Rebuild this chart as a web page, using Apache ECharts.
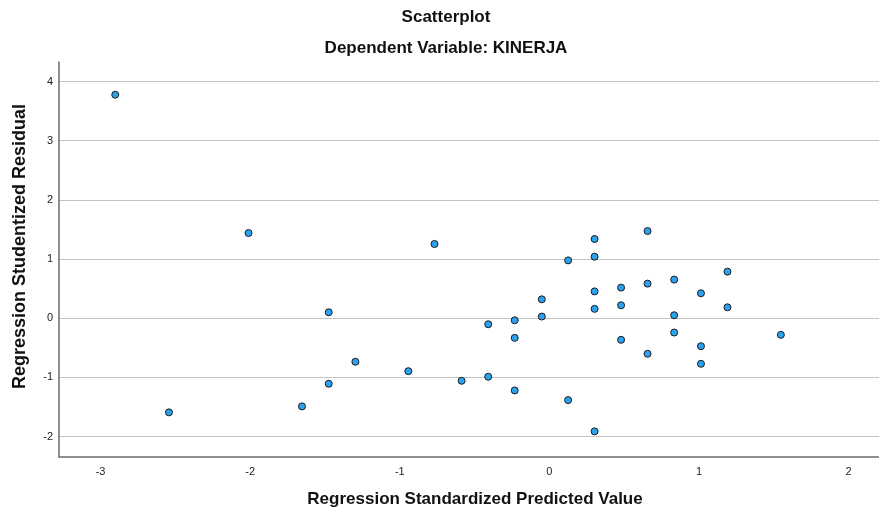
<!DOCTYPE html>
<html>
<head>
<meta charset="utf-8">
<script src="https://cdn.jsdelivr.net/npm/echarts@6/dist/echarts.min.js"></script>
<style>
html,body{margin:0;padding:0;background:#fff;}
#chart{width:879px;height:513px;}
</style>
</head>
<body>
<div id="chart"></div>
<script>
var chartTitle = 'Scatterplot';
var chartSubtitle = 'Dependent Variable: KINERJA';
var xAxisName = 'Regression Standardized Predicted Value';
var yAxisName = 'Regression Studentized Residual';
var xTicks = [-3, -2, -1, 0, 1, 2];
var yTicks = [-2, -1, 0, 1, 2, 3, 4];

var predicted = [
  -2.902, -2.543, -2.011, -0.768, -1.475, -1.297, -1.475, -1.654, -0.943, -0.587,
  -0.409, -0.409, -0.232, -0.232, -0.232, -0.051, -0.051, 0.125, 0.125, 0.302,
  0.302, 0.302, 0.302, 0.302, 0.479, 0.479, 0.479, 0.656, 0.656, 0.656,
  0.834, 0.834, 0.834, 1.013, 1.013, 1.013, 1.190, 1.190, 1.547
];
var residual = [
  3.777, -1.590, 1.440, 1.255, 0.101, -0.735, -1.106, -1.489, -0.894, -1.056,
  -0.101, -0.988, -0.034, -0.331, -1.219, 0.320, 0.029, 0.978, -1.383, 1.339,
  1.040, 0.454, 0.159, -1.911, 0.518, 0.219, -0.364, 1.474, 0.585, -0.600,
  0.653, 0.051, -0.241, 0.422, -0.472, -0.769, 0.788, 0.185, -0.280
];

var points = predicted.map(function (x, i) { return [x, residual[i]]; });
var FONT = 'Liberation Sans, Arial, sans-serif';

var chart = echarts.init(document.getElementById('chart'), null, {renderer: 'canvas'});
chart.setOption({
  animation: false,
  backgroundColor: '#ffffff',
  title: [
    {text: chartTitle, left: 441, textAlign: 'center', top: 4,
     textStyle: {fontFamily: FONT, fontSize: 17, fontWeight: 'bold', color: '#111'}},
    {text: chartSubtitle, left: 441, textAlign: 'center', top: 35,
     textStyle: {fontFamily: FONT, fontSize: 17, fontWeight: 'bold', color: '#111'}}
  ],
  grid: {left: 59, right: 0, top: 62, bottom: 55, containLabel: false},
  xAxis: {
    type: 'value', min: -3.278, max: 2.203,
    name: xAxisName, nameLocation: 'middle', nameGap: 34,
    nameTextStyle: {fontFamily: FONT, fontSize: 17, fontWeight: 'bold', color: '#111', padding: [0, 0, 0, 12]},
    axisLine: {show: true, onZero: false, lineStyle: {color: '#6b6b6b', width: 1.5}},
    axisTick: {show: false, customValues: xTicks},
    axisLabel: {customValues: xTicks, color: '#222', fontSize: 11, margin: 9, fontFamily: FONT},
    splitLine: {show: false}
  },
  yAxis: {
    type: 'value', min: -2.344, max: 4.33,
    name: yAxisName, nameLocation: 'middle', nameGap: 30, nameRotate: 90,
    nameTextStyle: {fontFamily: FONT, fontSize: 18, fontWeight: 'bold', color: '#111', padding: [0, 0, 0, 26]},
    axisLine: {show: true, onZero: false, lineStyle: {color: '#6b6b6b', width: 1.5}},
    axisTick: {show: false, customValues: yTicks},
    axisLabel: {customValues: yTicks, color: '#222', fontSize: 11, margin: 6, fontFamily: FONT},
    splitLine: {show: true, lineStyle: {color: '#c4c4c4', width: 1.2}}
  },
  series: [{
    type: 'scatter',
    data: points,
    symbol: 'circle',
    symbolSize: 7,
    itemStyle: {color: '#2aa2f0', borderColor: '#1c1c1c', borderWidth: 1, opacity: 1}
  }]
});
</script>
</body>
</html>
